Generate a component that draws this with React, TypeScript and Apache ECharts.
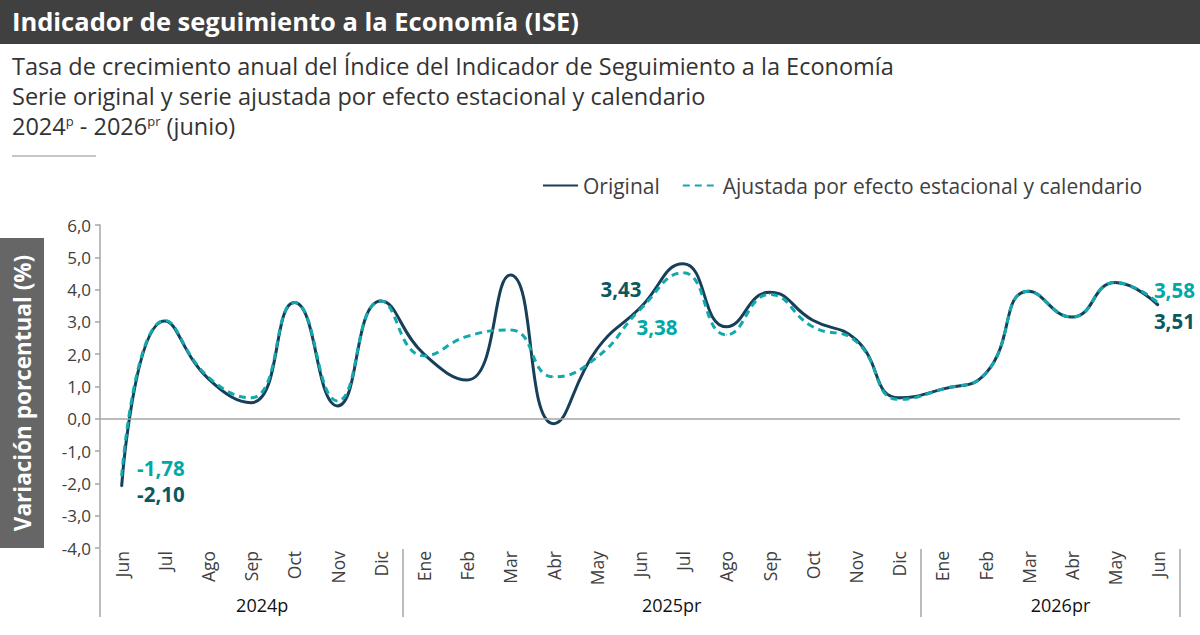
import { useEffect, useRef } from "react";
import * as echarts from "echarts";

// meses por año (etiquetas del eje)
const months2024 = ["Jun", "Jul", "Ago", "Sep", "Oct", "Nov", "Dic"];
const months2025 = ["Ene", "Feb", "Mar", "Abr", "May", "Jun", "Jul", "Ago", "Sep", "Oct", "Nov", "Dic"];
const months2026 = ["Ene", "Feb", "Mar", "Abr", "May", "Jun"];
const yearLabels = ["2024p", "2025pr", "2026pr"];

const categories = [
  ...months2024.map((m) => "2024|" + m),
  ...months2025.map((m) => "2025|" + m),
  ...months2026.map((m) => "2026|" + m),
];

// serie original
const original = [
  -2.1, 3.03, 1.25, 0.5, 3.6, 0.4, 3.65,
  2.0, 1.2, 4.45, -0.15, 2.15, 3.43, 4.8, 2.85, 3.92, 3.05, 2.45, 0.65,
  0.92, 1.4, 3.95, 3.15, 4.22, 3.51,
];

// serie ajustada por efecto estacional y calendario
const adjusted = [
  -1.78, 3.05, 1.3, 0.65, 3.6, 0.55, 3.65,
  1.95, 2.55, 2.75, 1.3, 1.9, 3.38, 4.52, 2.6, 3.85, 2.85, 2.4, 0.6,
  0.92, 1.4, 3.95, 3.15, 4.22, 3.58,
];

const DARK = "#173f5a";
const TEAL = "#12a9ad";
const DARK_LABEL = "#0b5860";
const TEAL_LABEL = "#00a8a8";

const fmt = (v: number) => v.toFixed(2).replace(".", ",");

const App = () => {
  const ref = useRef<HTMLDivElement>(null);

  useEffect(() => {
    if (!ref.current) return;
    const chart = echarts.init(ref.current, undefined, { renderer: "svg" });

    const lbl = (color: string, extra: any) => ({
      show: true,
      formatter: (p: any) => fmt(p.value),
      color,
      fontWeight: "bold",
      fontSize: 20.5,
      lineHeight: 20,
      ...extra,
    });

    const origData = original.map((v, i) => {
      if (i === 0) return { value: v, label: lbl(DARK_LABEL, { position: "right", distance: 15, offset: [0, 7] }) };
      if (i === 12) return { value: v, label: lbl(DARK_LABEL, { position: "top", distance: 9, offset: [-19, 0] }) };
      if (i === 24) return { value: v, label: lbl(DARK_LABEL, { position: "right", distance: -5, offset: [0, 16] }) };
      return v;
    });
    const adjData = adjusted.map((v, i) => {
      if (i === 0) return { value: v, label: lbl(TEAL_LABEL, { position: "right", distance: 15, offset: [0, -8] }) };
      if (i === 12) return { value: v, label: lbl(TEAL_LABEL, { position: "right", distance: -4, offset: [0, 17] }) };
      if (i === 24) return { value: v, label: lbl(TEAL_LABEL, { position: "right", distance: -5, offset: [0, -13] }) };
      return v;
    });

    const yearIdx = [3, 13, 22];

    chart.setOption({
      animation: false,
      textStyle: { fontFamily: "Open Sans" },
      title: [
        {
          text: "Indicador de seguimiento a la Economía (ISE)",
          left: 12,
          top: 8,
          padding: 0,
          textStyle: { color: "#fff", fontSize: 25.5, fontWeight: "bold" },
        },
        {
          text: "Tasa de crecimiento anual del Índice del Indicador de Seguimiento a la Economía",
          left: 12,
          top: 54,
          padding: 0,
          textStyle: { color: "#333", fontSize: 23.5, fontWeight: "normal" },
        },
        {
          text: "Serie original y serie ajustada por efecto estacional y calendario",
          left: 12,
          top: 84,
          padding: 0,
          textStyle: { color: "#333", fontSize: 23.5, fontWeight: "normal" },
        },
        {
          text: "{a|2024}{s|p}{a| - 2026}{s|pr}{a| (junio)}",
          left: 12,
          top: 114,
          padding: 0,
          textStyle: {
            color: "#333",
            fontSize: 23.5,
            fontWeight: "normal",
            rich: {
              a: { fontSize: 23.5, color: "#333", lineHeight: 24 },
              s: { fontSize: 13, color: "#333", lineHeight: 13, verticalAlign: "top" },
            },
          },
        },
      ],
      graphic: [
        { type: "rect", z: 0, shape: { x: 0, y: 0, width: 1200, height: 44 }, style: { fill: "#404040" } },
        { type: "line", shape: { x1: 12, y1: 156, x2: 96, y2: 156 }, style: { stroke: "#8c8c8c", lineWidth: 1 } },
        { type: "rect", shape: { x: 0, y: 238, width: 44, height: 310 }, style: { fill: "#666666" } },
        {
          type: "text",
          x: 22,
          y: 393,
          rotation: Math.PI / 2,
          style: {
            text: "Variación porcentual (%)",
            fill: "#fff",
            font: "bold 22.5px 'Open Sans'",
            align: "center",
            verticalAlign: "middle",
          },
        },
      ],
      legend: {
        left: 537,
        top: 170,
        itemWidth: 35,
        itemHeight: 12,
        itemGap: 22,
        itemStyle: { opacity: 0 },
        textStyle: { fontSize: 21, color: "#404040" },
        data: ["Original", "Ajustada por efecto estacional y calendario"],
      },
      grid: { left: 100, right: 20, top: 225, bottom: 87 },
      xAxis: [
        {
          type: "category",
          data: categories,
          boundaryGap: true,
          axisLine: { show: false },
          axisTick: { show: false },
          axisLabel: {
            interval: 0,
            rotate: 90,
            margin: 3,
            fontSize: 17.5,
            color: "#404040",
            formatter: (v: string) => v.split("|")[1],
          },
        },
        {
          type: "category",
          data: categories,
          boundaryGap: true,
          position: "bottom",
          offset: 1,
          axisLine: { show: false },
          axisTick: {
            show: true,
            length: 68,
            interval: (i: number) => i === 0 || i === 7 || i === 19,
            lineStyle: { color: "#a6a6a6", width: 1.5 },
          },
          axisLabel: {
            interval: (i: number) => yearIdx.includes(i),
            margin: 47,
            fontSize: 18,
            color: "#111",
            formatter: (_v: string, i: number) => {
              const k = yearIdx.indexOf(i);
              if (k === 0) return "{l|" + yearLabels[0] + "}";
              if (k === 1) return "{r|" + yearLabels[1] + "}";
              if (k === 2) return "{r|" + yearLabels[2] + "}";
              return "";
            },
            rich: {
              l: { fontSize: 18, color: "#111", padding: [0, 0, 0, 22] },
              r: { fontSize: 18, color: "#111", padding: [0, 23, 0, 0] },
            },
          },
        },
      ],
      yAxis: {
        type: "value",
        min: -4,
        max: 6,
        interval: 1,
        axisLine: { show: true, lineStyle: { color: "#a6a6a6", width: 1.5 } },
        axisTick: { show: true, length: 5, lineStyle: { color: "#a6a6a6", width: 1.5 } },
        splitLine: { show: false },
        axisLabel: {
          fontSize: 17,
          color: "#404040",
          margin: 9,
          formatter: (v: number) => v.toFixed(1).replace(".", ","),
        },
      },
      series: [
        {
          name: "Original",
          type: "line",
          smooth: 0.5,
          symbol: "circle",
          symbolSize: 1,
          showSymbol: true,
          data: origData,
          lineStyle: { color: DARK, width: 3 },
          itemStyle: { color: DARK },
          markLine: {
            silent: true,
            symbol: ["none", "none"],
            label: { show: false },
            lineStyle: { color: "#a6a6a6", type: "solid", width: 1.5 },
            data: [{ yAxis: 0 }],
          },
        },
        {
          name: "Ajustada por efecto estacional y calendario",
          type: "line",
          smooth: 0.5,
          symbol: "circle",
          symbolSize: 1,
          showSymbol: true,
          data: adjData,
          lineStyle: { color: TEAL, width: 3, type: [7, 5] },
          itemStyle: { color: TEAL },
        },
      ],
    });

    return () => chart.dispose();
  }, []);

  return (
    <div
      ref={ref}
      style={{ position: "fixed", left: 0, top: 0, width: 1200, height: 635, background: "#fff" }}
    />
  );
};

export default App;
